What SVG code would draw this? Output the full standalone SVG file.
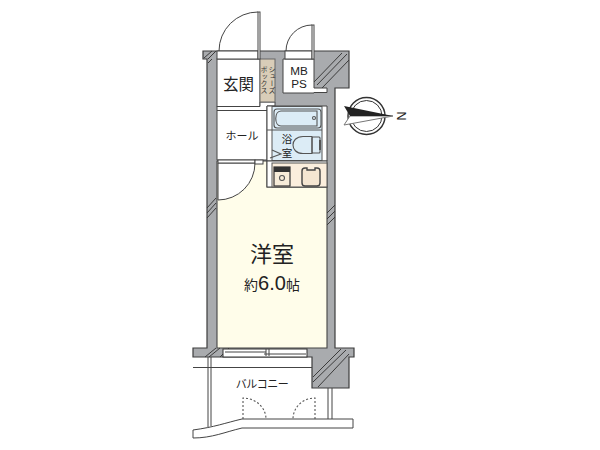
<svg xmlns="http://www.w3.org/2000/svg" width="600" height="450" viewBox="0 0 600 450">
<style>
.w{fill:#a9abae;stroke:#3c3c3c;stroke-width:1.2}
.l{fill:none;stroke:#444;stroke-width:1}
.t{fill:none;stroke:#555;stroke-width:1.1}
.h{stroke:#3c3c3c;stroke-width:1;fill:none}
.d{fill:none;stroke:#555;stroke-width:1.1;stroke-dasharray:2 2}
.wh{fill:#fff;stroke:#444;stroke-width:1}
text{font-family:"Noto Sans CJK JP","Liberation Sans",sans-serif;fill:#222;text-anchor:middle}
.v{writing-mode:vertical-rl;font-size:7px;fill:#333}
.lat{font-family:"Liberation Sans",sans-serif}
</style>
<rect width="600" height="450" fill="#fff"/>
<g id="walls">
<path class="w" d="M203 51H349V88H335V348H354V357H349V388H312V357H193V348H207V59H203Z"/>
</g>
<g id="room-yoshitsu">
<path d="M217 161H267V187H327V348H217Z" fill="#fffdea" stroke="#444" stroke-width="1.1"/>
<text x="272" y="262" font-size="22">洋室</text>
<text x="272" y="290"><tspan font-size="14">約</tspan><tspan class="lat" font-size="20">6.0</tspan><tspan font-size="14">帖</tspan></text>
</g>
<g id="room-genkan"><rect class="wh" x="217" y="59" width="43" height="47.500"/><text x="238.500" y="90" font-size="15.500">玄関</text></g>
<g id="room-hall">
<path class="wh" d="M217 106.500H260V102H275V106H267V160H217Z"/>
<line x1="217" y1="110.500" x2="267" y2="110.500" stroke="#444"/>
<text x="242" y="140" font-size="11">ホール</text>
</g>
<g id="shoebox"><rect x="260" y="59" width="15" height="43" fill="#d9cdb8" stroke="#666"/>
<text class="v" x="272" y="80">シューズ</text><text class="v" x="264" y="80">ボックス</text></g>
<g id="mbps"><path class="wh" d="M283 59H314V88H327V92.500H314V93H283Z"/><text class="lat" x="299" y="75" font-size="11.700">MB</text><text class="lat" x="299" y="87.500" font-size="11.700">PS</text></g>
<g id="bath">
<path class="wh" d="M267 106H327V161H267Z"/>
<rect x="272" y="106.500" width="50" height="54" fill="#dcecf6" stroke="#555"/>
<line x1="267" y1="130" x2="322" y2="130" stroke="#555"/>
<rect x="274" y="109" width="47" height="19" rx="3" class="t"/>
<path class="t" d="M281 111H317V126H281C274 126 274 111 281 111Z"/>
<circle cx="314" cy="118" r="1.500" class="t"/>
<path class="t" d="M312 136.500H303C296 136.500 293 141 293 145S296 153.500 303 153.500H312Z"/>
<rect x="312" y="137" width="8" height="16" rx="1" class="t"/>
<line x1="320" y1="140" x2="320" y2="150" stroke="#555" stroke-width="2"/>
<path class="t" d="M272 150L281 154L270 158"/>
<text x="287" y="143" font-size="10.500">浴</text><text x="287" y="157" font-size="10.500">室</text>
</g>
<g id="kitchen">
<rect class="wh" x="267" y="161" width="60" height="26"/>
<rect x="272" y="163" width="55" height="24" fill="#fbeedd" stroke="#555"/>
<rect x="274" y="167" width="16" height="19" fill="#f7ecd9" stroke="#333" stroke-width="1.200"/><rect x="274" y="167" width="16" height="5" fill="#333"/><circle cx="282" cy="178" r="2.500" class="t"/>
<path d="M302 171Q302 168 305 168H307V170H315V168H317Q320 168 320 171V183Q320 186 317 186H305Q302 186 302 183Z" fill="#f5e6d2" stroke="#444" stroke-width="1.400"/>
</g>
<g id="doors">
<rect class="wh" x="217" y="51" width="41" height="8"/>
<rect class="wh" x="258" y="12" width="2" height="47"/>
<path class="l" d="M258 12A39 39 0 0 0 219 51"/>
<rect class="wh" x="285" y="51" width="27" height="8"/>
<rect class="wh" x="312" y="25" width="2" height="34"/>
<path class="l" d="M312 25A26 26 0 0 0 286 51"/>
<path class="wh" d="M218 200V163H255A37 37 0 0 1 218 200Z"/>
<rect class="wh" x="218" y="160" width="37" height="3"/>
<rect class="wh" x="255" y="160" width="8" height="4"/>
</g>
<g id="hatches">
<g class="h"><path d="M204 58L212 51M208 59L216 51M208 63L212 59"/>
<path d="M314 82L342 53M317 85L347 54M322 88L349 60"/>
<path d="M207 208L216 198M207 213L216 203M207 218L216 208"/>
<path d="M327 213L335 205M327 219L335 211M327 225L335 217"/>
<path d="M205 357L216 348M209 357L220 348M220 357L229 348"/>
<path d="M313 377L341 349M313 382L346 350M318 387L349 354"/></g>
</g>
<g id="window">
<rect x="223" y="349" width="84" height="8" fill="#fff" stroke="#333"/>
<path class="l" d="M225 352H266M264 354H306M266 349V356M269 349V356"/>
</g>
<g id="balcony">
<path class="l" d="M208 357V428M211 357V426M193 367.500H312M328 388V419M332 388V419"/>
<path class="wh" d="M193 430C215 427 225 423 242 419H353V428H242C225 432 212 438 193 438Z"/>
<path class="d" d="M243 419V398C256 398 266 408 266 419M315 419V398C302 398 293 408 293 419"/>
<text x="262" y="388" font-size="11" letter-spacing="-.5">バルコニー</text>
</g>
<g id="compass">
<circle cx="366.500" cy="116" r="18.500" fill="#fff" stroke="#333" stroke-width="1.500"/>
<circle cx="366.500" cy="116" r="15.500" fill="none" stroke="#333"/>
<path d="M344 125L393 116L350 116Z" fill="#fff" stroke="#777"/><path d="M344 106L393 116L350 116Z" fill="#222"/>
<text class="lat" font-size="12.500" transform="translate(397 116) rotate(90)">N</text>
</g>
</svg>
